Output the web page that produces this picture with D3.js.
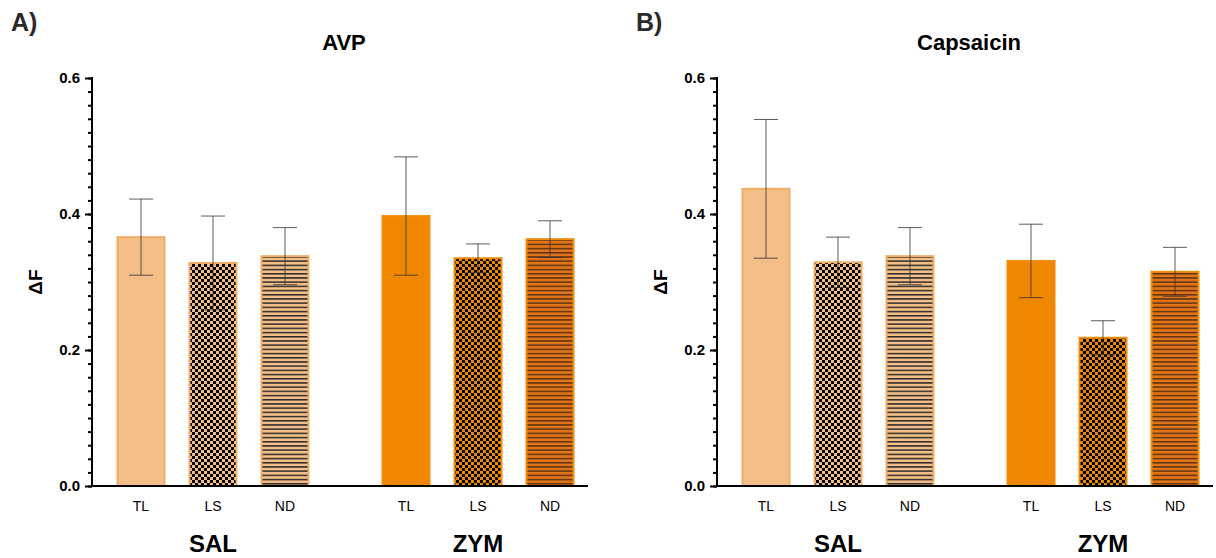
<!DOCTYPE html>
<html>
<head>
<meta charset="utf-8">
<script src="https://cdn.jsdelivr.net/npm/d3@7"></script>
<style>
  body { margin: 0; background: #fff; }
  text { font-family: "Liberation Sans", Arial, sans-serif; }
</style>
</head>
<body>
<div id="chart"></div>
<script>
// categories
var groups = ["SAL", "ZYM"];
var subgroups = ["TL", "LS", "ND"];
var yTicks = [0, 0.2, 0.4, 0.6];

// panel A - AVP (order: SAL TL, LS, ND, ZYM TL, LS, ND)
var avpMean = [0.366, 0.328, 0.338, 0.397, 0.335, 0.363];
var avpErr  = [0.056, 0.069, 0.042, 0.087, 0.021, 0.027];

// panel B - Capsaicin
var capMean = [0.437, 0.329, 0.338, 0.331, 0.218, 0.315];
var capErr  = [0.102, 0.037, 0.042, 0.054, 0.025, 0.036];

var W = 1216, H = 558;
var svg = d3.select("#chart").append("svg")
  .attr("width", W).attr("height", H);

var lightOrange = "#f2bd86", orange = "#ef8700";

// fill patterns
var defs = svg.append("defs");
function checker(id, bg) {
  var p = defs.append("pattern").attr("id", id)
    .attr("patternUnits", "userSpaceOnUse").attr("width", 6).attr("height", 6);
  p.append("rect").attr("width", 6).attr("height", 6).attr("fill", bg);
  p.append("rect").attr("width", 3).attr("height", 3).attr("fill", "#000");
  p.append("rect").attr("x", 3).attr("y", 3).attr("width", 3).attr("height", 3).attr("fill", "#000");
}
function stripes(id, bg, line) {
  var p = defs.append("pattern").attr("id", id)
    .attr("patternUnits", "userSpaceOnUse").attr("width", 6).attr("height", 4.2);
  p.append("rect").attr("width", 6).attr("height", 4.2).attr("fill", bg);
  p.append("rect").attr("y", 0).attr("width", 6).attr("height", 1.5).attr("fill", line);
}
checker("chkSAL", lightOrange);
checker("chkZYM", orange);
stripes("lnSAL", lightOrange, "#2a2a2a");
stripes("lnZYM", "#e27418", "#5e3414");

function fillFor(g, s) {
  if (s === "TL") return g === "SAL" ? lightOrange : orange;
  if (s === "LS") return g === "SAL" ? "url(#chkSAL)" : "url(#chkZYM)";
  return g === "SAL" ? "url(#lnSAL)" : "url(#lnZYM)";
}

function drawPanel(left, label, title, means, errs) {
  var top = 78, bottom = 486, axisEnd = left + 496;

  var y = d3.scaleLinear().domain([0, 0.6]).range([bottom, top]);
  var x0 = d3.scaleBand().domain(groups).range([left + 13, left + 494]).paddingInner(0.185);
  var x1 = d3.scaleBand().domain(subgroups).range([0, x0.bandwidth()])
    .paddingInner(0.347).paddingOuter(0.1735);

  var data = [];
  groups.forEach(function(g, gi) {
    subgroups.forEach(function(s, si) {
      var i = gi * 3 + si;
      data.push({g: g, s: s, v: means[i], e: errs[i]});
    });
  });

  var g = svg.append("g");

  // bars
  g.selectAll("rect.bar").data(data).enter().append("rect")
    .attr("class", "bar")
    .attr("x", function(d) { return x0(d.g) + x1(d.s); })
    .attr("width", x1.bandwidth())
    .attr("y", function(d) { return y(d.v); })
    .attr("height", function(d) { return y(0) - y(d.v); })
    .attr("fill", function(d) { return fillFor(d.g, d.s); })
    .attr("stroke", function(d) { return d.g === "SAL" ? "#efae68" : "#f28c0a"; })
    .attr("stroke-width", 2);

  // error bars
  var cx = function(d) { return x0(d.g) + x1(d.s) + x1.bandwidth() / 2; };
  var eb = g.selectAll("g.err").data(data).enter().append("g")
    .attr("stroke", "#333").attr("stroke-opacity", 0.8).attr("stroke-width", 1);
  eb.append("line")
    .attr("x1", cx).attr("x2", cx)
    .attr("y1", function(d) { return y(d.v + d.e); })
    .attr("y2", function(d) { return y(d.v - d.e); });
  eb.append("line")
    .attr("x1", function(d) { return cx(d) - 12; }).attr("x2", function(d) { return cx(d) + 12; })
    .attr("y1", function(d) { return y(d.v + d.e); }).attr("y2", function(d) { return y(d.v + d.e); });
  eb.append("line")
    .attr("x1", function(d) { return cx(d) - 12; }).attr("x2", function(d) { return cx(d) + 12; })
    .attr("y1", function(d) { return y(d.v - d.e); }).attr("y2", function(d) { return y(d.v - d.e); });

  // y axis: minor ticks every 0.02
  var minor = d3.range(0, 0.6001, 0.02);
  g.append("g").attr("transform", "translate(" + left + ",0)")
    .call(d3.axisLeft(y).tickValues(minor).tickSize(4).tickFormat(""))
    .call(function(a) {
      a.select(".domain").remove();
      a.selectAll("line").attr("stroke", "#000").attr("stroke-width", 2);
    });
  g.append("g").attr("transform", "translate(" + left + ",0)")
    .call(d3.axisLeft(y).tickValues(yTicks).tickSize(7).tickPadding(5).tickFormat(d3.format(".1f")))
    .call(function(a) {
      a.select(".domain").attr("stroke", "#000").attr("stroke-width", 2)
        .attr("d", "M0," + (top - 1) + "V" + (bottom + 1));
      a.selectAll("line").attr("stroke", "#000").attr("stroke-width", 2);
      a.selectAll("text").attr("fill", "#000")
        .style("font-size", "15px").style("font-weight", "bold")
        .style("font-family", "'Liberation Sans', Arial, sans-serif");
    });

  // x axis line
  g.append("line")
    .attr("x1", left - 1).attr("x2", axisEnd)
    .attr("y1", y(0)).attr("y2", y(0))
    .attr("stroke", "#000").attr("stroke-width", 2);

  // sub category labels
  g.selectAll("text.sub").data(data).enter().append("text")
    .attr("x", cx).attr("y", 511)
    .attr("text-anchor", "middle")
    .style("font-size", "14px")
    .text(function(d) { return d.s; });

  // group labels
  g.selectAll("text.grp").data(groups).enter().append("text")
    .attr("x", function(d) { return x0(d) + x0.bandwidth() / 2; })
    .attr("y", 552)
    .attr("text-anchor", "middle")
    .style("font-size", "24px").style("font-weight", "bold")
    .text(function(d) { return d; });

  // y label
  g.append("text")
    .attr("transform", "translate(" + (left - 50) + "," + y(0.3) + ") rotate(-90)")
    .attr("text-anchor", "middle")
    .style("font-size", "19px").style("font-weight", "bold")
    .text("ΔF");

  // title
  g.append("text")
    .attr("x", left + 252).attr("y", 50)
    .attr("text-anchor", "middle")
    .style("font-size", "22px").style("font-weight", "bold")
    .text(title);

  // panel letter
  g.append("text")
    .attr("x", left - 81).attr("y", 31)
    .style("font-size", "25px").style("font-weight", "bold")
    .attr("fill", "#2a2a2a")
    .text(label);
}

drawPanel(92, "A)", "AVP", avpMean, avpErr);
drawPanel(717, "B)", "Capsaicin", capMean, capErr);
</script>
</body>
</html>
